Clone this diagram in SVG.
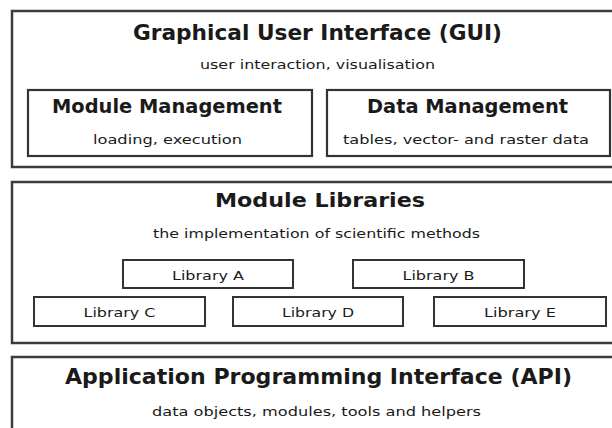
<svg xmlns="http://www.w3.org/2000/svg" width="612" height="428" viewBox="0 0 612 428">
<style>
.outer{fill:#fff;stroke:#3c3c3c;stroke-width:2.5}
.inner{fill:#fff;stroke:#333;stroke-width:2.2}
.lib{fill:#fff;stroke:#333;stroke-width:2}
text{font-family:"DejaVu Sans","Liberation Sans",sans-serif;fill:#1a1a1a;text-anchor:middle}
.t1{font-size:22px;font-weight:bold}
.t2{font-size:19px;font-weight:bold}
.s{font-size:12.5px}
.l{font-size:12.5px}
</style>
<rect width="612" height="428" fill="#fff"/>
<g id="gui">
<rect class="outer" x="12" y="11" width="606" height="156"/>
<text class="t1" x="317.5" y="40" textLength="369" lengthAdjust="spacingAndGlyphs">Graphical User Interface (GUI)</text>
<text class="s" x="317.5" y="69" textLength="235" lengthAdjust="spacingAndGlyphs">user interaction, visualisation</text>
</g>
<g id="module-management">
<rect class="inner" x="28" y="90" width="284" height="66"/>
<text class="t2" x="167" y="113" textLength="230" lengthAdjust="spacingAndGlyphs">Module Management</text>
<text class="s" x="167.5" y="144" textLength="149" lengthAdjust="spacingAndGlyphs">loading, execution</text>
</g>
<g id="data-management">
<rect class="inner" x="327" y="90" width="283" height="66"/>
<text class="t2" x="467.5" y="113" textLength="201" lengthAdjust="spacingAndGlyphs">Data Management</text>
<text class="s" x="466" y="144" textLength="246" lengthAdjust="spacingAndGlyphs">tables, vector- and raster data</text>
</g>
<g id="module-libraries">
<rect class="outer" x="12" y="182" width="606" height="161"/>
<text class="t2" x="320" y="207" textLength="210" lengthAdjust="spacingAndGlyphs">Module Libraries</text>
<text class="s" x="316.5" y="238" textLength="327" lengthAdjust="spacingAndGlyphs">the implementation of scientific methods</text>
</g>
<g id="library-a">
<rect class="lib" x="123" y="260" width="170" height="28"/>
<text class="l" x="208" y="280" textLength="72" lengthAdjust="spacingAndGlyphs">Library A</text>
</g>
<g id="library-b">
<rect class="lib" x="353" y="260" width="171" height="28"/>
<text class="l" x="438.5" y="280" textLength="72" lengthAdjust="spacingAndGlyphs">Library B</text>
</g>
<g id="library-c">
<rect class="lib" x="34" y="297" width="171" height="29"/>
<text class="l" x="119.5" y="317" textLength="72" lengthAdjust="spacingAndGlyphs">Library C</text>
</g>
<g id="library-d">
<rect class="lib" x="233" y="297" width="170" height="29"/>
<text class="l" x="318" y="317" textLength="72" lengthAdjust="spacingAndGlyphs">Library D</text>
</g>
<g id="library-e">
<rect class="lib" x="434" y="297" width="172" height="29"/>
<text class="l" x="520" y="317" textLength="72" lengthAdjust="spacingAndGlyphs">Library E</text>
</g>
<g id="api">
<rect class="outer" x="12" y="357" width="606" height="80"/>
<text class="t1" x="318.5" y="384" textLength="507" lengthAdjust="spacingAndGlyphs">Application Programming Interface (API)</text>
<text class="s" x="316.5" y="416" textLength="329" lengthAdjust="spacingAndGlyphs">data objects, modules, tools and helpers</text>
</g>
<g id="connectors"></g>
</svg>
